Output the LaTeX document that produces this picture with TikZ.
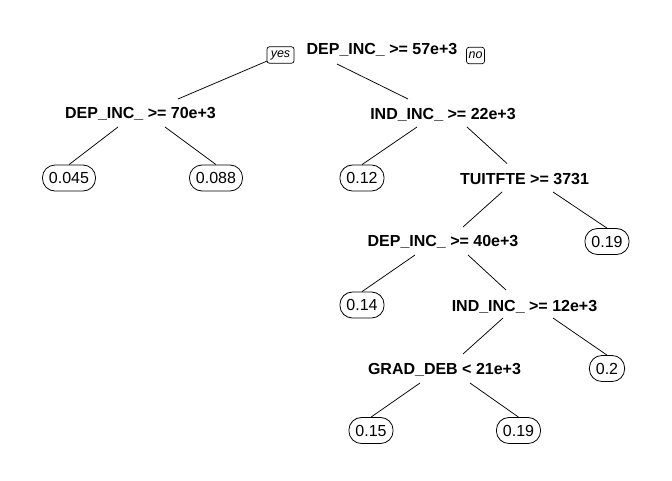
\documentclass[tikz,border=0pt]{standalone}
\usepackage{fontspec}
\setmainfont{Liberation Sans}
\begin{document}
\begin{tikzpicture}[x=1pt,y=-1pt,
  split/.style={font=\fontsize{16}{18}\selectfont\bfseries, inner sep=0pt, anchor=base},
  leaf/.style={draw, rounded corners=12.5pt, font=\fontsize{16}{18}\selectfont, minimum height=26pt, inner xsep=6.5pt, inner ysep=0pt, line width=0.8pt},
  yn/.style={draw, rounded corners=2.5pt, font=\fontsize{12.5}{14}\selectfont\itshape, minimum height=16.5pt, inner xsep=2pt, inner ysep=0pt, fill=white, line width=0.7pt},
  br/.style={line width=0.75pt}]
\useasboundingbox (0,0) rectangle (672,480);

% split nodes (placed at baseline)
\node[split] (root)  at (382,54.3)   {DEP\_INC\_ >= 57e+3};
\node[split] (dep70) at (140.5,118.3) {DEP\_INC\_ >= 70e+3};
\node[split] (ind22) at (443,119)     {IND\_INC\_ >= 22e+3};
\node[split] (tuit)  at (524.5,184)   {TUITFTE >= 3731};
\node[split] (dep40) at (443,246.7)   {DEP\_INC\_ >= 40e+3};
\node[split] (ind12) at (524.5,311)   {IND\_INC\_ >= 12e+3};
\node[split] (grad)  at (444.5,374)   {GRAD\_DEB < 21e+3};

% leaves
\node[leaf] (l045)  at (69,178)     {0.045};
\node[leaf] (l088)  at (216,178)    {0.088};
\node[leaf] (l012)  at (362,178)    {0.12};
\node[leaf] (l019a) at (607,241.5)  {0.19};
\node[leaf] (l014)  at (362,305)    {0.14};
\node[leaf] (l02)   at (607,368.5)  {0.2};
\node[leaf] (l015)  at (371,430.5)  {0.15};
\node[leaf] (l019b) at (518.5,430.5){0.19};

% connectors
\draw[br] ([shift={(-45,9.7)}]root.base) -- ([shift={(-35,-20)}]ind22.base);
\draw[br] ([shift={(-101.5,1)}]root.base) -- ([shift={(37.5,-19.3)}]dep70.base);
\draw[br] ([shift={(-22.5,8.7)}]dep70.base) -- (l045.north);
\draw[br] ([shift={(24.5,8.7)}]dep70.base) -- (l088.north);
\draw[br] ([shift={(-26,8)}]ind22.base) -- (l012.north);
\draw[br] ([shift={(24,8)}]ind22.base) -- ([shift={(-17.5,-20.5)}]tuit.base);
\draw[br] ([shift={(-22.5,8)}]tuit.base) -- ([shift={(20,-19.7)}]dep40.base);
\draw[br] ([shift={(28.5,8)}]tuit.base) -- (l019a.north);
\draw[br] ([shift={(-28,8.3)}]dep40.base) -- (l014.north);
\draw[br] ([shift={(25,8.3)}]dep40.base) -- ([shift={(-18.5,-21)}]ind12.base);
\draw[br] ([shift={(-21.5,7)}]ind12.base) -- ([shift={(18.5,-20)}]grad.base);
\draw[br] ([shift={(28.5,7)}]ind12.base) -- (l02.north);
\draw[br] ([shift={(-24.5,9)}]grad.base) -- (l015.north);
\draw[br] ([shift={(25.5,9)}]grad.base) -- (l019b.north);

% yes / no labels
\node[yn, minimum width=27pt] (yes) at (280.5,55) {yes};
\node[yn, minimum width=17pt] (no)  at (475.5,55.5) {no};
\end{tikzpicture}
\end{document}
